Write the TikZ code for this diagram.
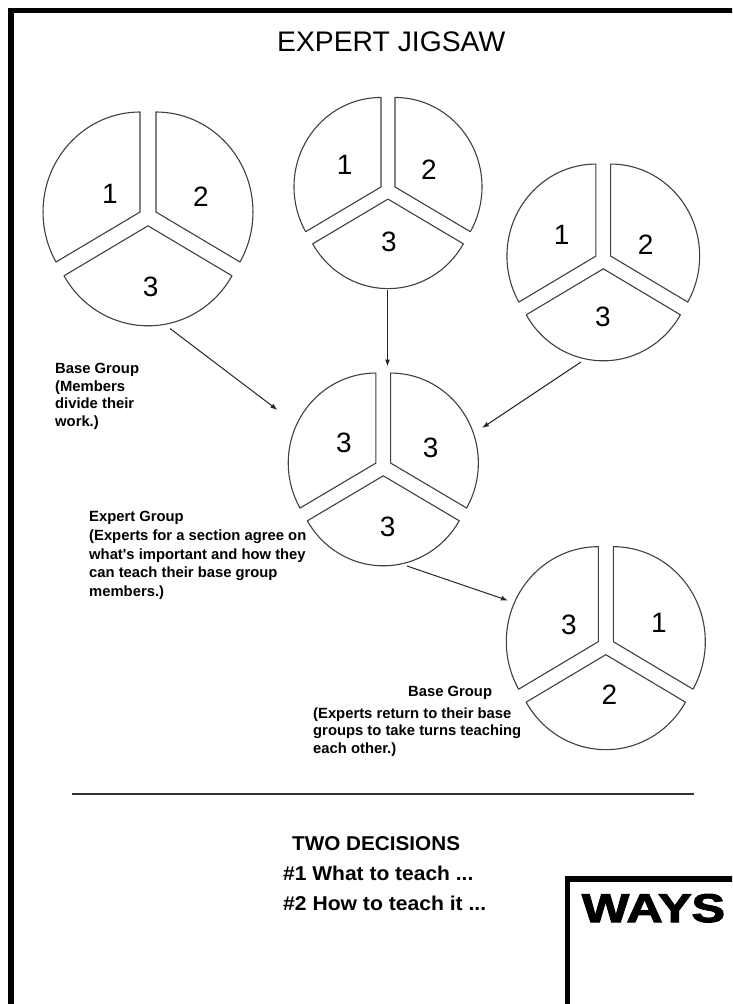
\documentclass[tikz,border=0pt]{standalone}
\usepackage{fontspec}
\usepackage{graphicx}
\setmainfont{Liberation Sans}
\newfontfamily\waysfont{Liberation Sans Bold}[FakeBold=2.5]
\usetikzlibrary{arrows.meta}
\tikzset{
  slice/.style={draw=black!75, line width=1.1pt, fill=white, line join=round},
  num/.style={inner sep=0pt, font=\fontsize{28}{32}\selectfont},
  lbl/.style={inner sep=0pt, anchor=base west, align=left, font=\bfseries\fontsize{14.8}{18.75}\selectfont},
  bottomtxt/.style={inner sep=0pt, anchor=base west, font=\bfseries\fontsize{20}{24}\selectfont},
  arr/.style={draw=black!85, line width=1pt, -{Latex[length=7pt,width=5pt]}},
  frame/.style={line width=5.5pt, line join=miter, line cap=butt},
  rule/.style={line width=1.8pt, draw=black!80},
}
\newcommand\pieslices[6]{% #1 name, #2 cx, #3 cy (image y down), #4 Rx, #5 Ry, #6 d
  \coordinate (#1) at (#2,-#3);
  \begin{scope}[shift={(#1)}]
    \pgfmathsetmacro\pdx{0.866*#6}\pgfmathsetmacro\pdy{0.5*#6}
    \draw[slice] (-\pdx,\pdy) -- ++(0,#5) arc[start angle=90,end angle=210,x radius=#4,y radius=#5] -- cycle;
    \draw[slice] (\pdx,\pdy) -- ++(0,#5) arc[start angle=90,end angle=-30,x radius=#4,y radius=#5] -- cycle;
    \draw[slice] (0,-#6) -- ++({#4*cos(210)},{#5*sin(210)}) arc[start angle=210,end angle=330,x radius=#4,y radius=#5] -- cycle;
  \end{scope}}
\begin{document}
\begin{tikzpicture}[x=1pt,y=1pt]
\useasboundingbox (0,0) rectangle (732,-1004);
\clip (0,0) rectangle (732,-1004);
\fill[white] (0,0) rectangle (732,-1004);

% outer frame
\draw[frame] (11,-1010) -- (11,-10.5) -- (745,-10.5);
% title
\node[inner sep=0pt, anchor=base west, font=\fontsize{28.3}{34}\selectfont] (title) at (277,-51) {EXPERT JIGSAW};

% pies
\pieslices{p1}{148}{216.6}{97}{100}{9.2}
\pieslices{p2}{388}{191}{87}{89.5}{8.1}
\pieslices{p3}{603.3}{260.3}{89}{92}{8.5}
\pieslices{p4}{383.3}{467.3}{87.7}{90}{8.5}
\pieslices{p5}{605.8}{646}{92}{95}{8.66}

% numbers
\node[num] (p1a) at (110,-193.7) {1};
\node[num] (p1b) at (200.8,-196.7) {2};
\node[num] (p1c) at (150.7,-287.3) {3};
\node[num] (p2a) at (344.7,-164.7) {1};
\node[num] (p2b) at (429,-169.7) {2};
\node[num] (p2c) at (389,-242) {3};
\node[num] (p3a) at (561.7,-235) {1};
\node[num] (p3b) at (645.7,-245) {2};
\node[num] (p3c) at (603,-316.7) {3};
\node[num] (p4a) at (344,-443.3) {3};
\node[num] (p4b) at (430.7,-448.3) {3};
\node[num] (p4c) at (387.7,-526.7) {3};
\node[num] (p5a) at (569,-625) {3};
\node[num] (p5b) at (659,-623.3) {1};
\node[num] (p5c) at (609.3,-695) {2};

% arrows
\coordinate (a1s) at (170,-328.5); \coordinate (a1e) at (277.5,-410);
\coordinate (a2s) at (387.5,-290); \coordinate (a2e) at (387.5,-366.5);
\coordinate (a3s) at (581,-362);   \coordinate (a3e) at (482,-428);
\coordinate (a4s) at (407,-566);   \coordinate (a4e) at (508,-600.5);
\draw[arr] (a1s) -- (a1e);
\draw[arr] (a2s) -- (a2e);
\draw[arr] (a3s) -- (a3e);
\draw[arr] (a4s) -- (a4e);

% labels (anchor = baseline of the last line)
\node[lbl, font=\bfseries\fontsize{14.8}{17.8}\selectfont] (base1) at (55,-426.7)
  {Base Group\\(Members\\divide their\\work.)};
\node[lbl] (expert) at (89,-596.7)
  {Expert Group\\(Experts for a section agree on\\what\textquotesingle s important and how they\\can teach their base group\\members.)};
\node[lbl] (base2h) at (408,-696) {Base Group};
\node[lbl, font=\bfseries\fontsize{14.8}{17.5}\selectfont] (base2) at (313,-753.3)
  {(Experts return to their base\\groups to take turns teaching\\each other.)};

% rule
\coordinate (r1) at (72,-794); \coordinate (r2) at (694,-794);
\draw[rule] (r1) -- (r2);

% bottom text
\node[bottomtxt] (two) at (292,-850.7) {\scalebox{1.035}[1]{TWO DECISIONS}};
\node[bottomtxt] (d1) at (283,-880.7) {\scalebox{1.05}[1]{\#1 What to teach ...}};
\node[bottomtxt] (d2) at (283,-910) {\scalebox{1.056}[1]{\#2 How to teach it ...}};

% ways box
\draw[frame] (567.5,-1010) -- (567.5,-879) -- (745,-879);
\node[inner sep=0pt, anchor=base west] (ways) at (581.7,-922) {\resizebox{143pt}{28pt}{\waysfont WAYS}};
\end{tikzpicture}
\end{document}
